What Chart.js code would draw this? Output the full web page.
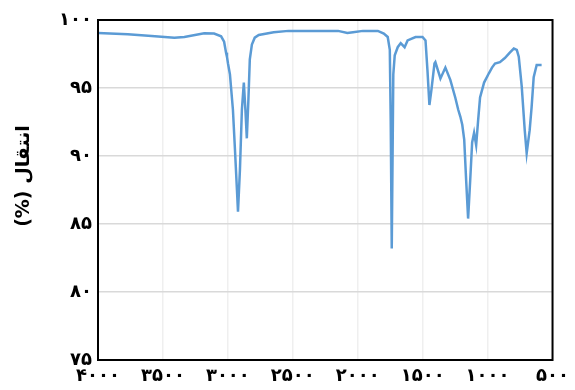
<!DOCTYPE html>
<html>
<head>
<meta charset="utf-8">
<script src="https://cdn.jsdelivr.net/npm/chart.js@4"></script>
<style>
  html, body { margin: 0; padding: 0; background: #ffffff; }
  canvas { display: block; }
</style>
</head>
<body>
<canvas id="ir" width="575" height="390"></canvas>
<script>
// IR spectrum: wavenumber (cm-1) and transmittance (%)
const wavenumbers = [
  4000, 3771, 3587, 3412, 3335, 3182, 3106, 3052, 3029, 3014, 3007, 2999, 2984, 2961,
  2945, 2930, 2922, 2907, 2892, 2877, 2865, 2854, 2842, 2831, 2815, 2793, 2762, 2647,
  2533, 2303, 2151, 2080, 2036, 1960, 1845, 1799, 1769, 1753, 1746, 1738, 1726,
  1715, 1692, 1669, 1639, 1616, 1555, 1501, 1478, 1463, 1448, 1432, 1409, 1402, 1363,
  1325, 1287, 1249, 1226, 1210, 1195, 1180, 1165, 1150, 1134, 1119, 1104, 1088, 1073,
  1058, 1027, 989, 966, 943, 905, 867, 829, 798, 775, 760, 737, 714, 699, 676, 661,
  645, 622, 584
];
const transmittance = [
  99.04, 98.95, 98.82, 98.70, 98.75, 99.02, 99.00, 98.80, 98.40, 97.60, 97.30, 96.80, 96.00, 93.40,
  90.40, 87.50, 85.90, 89.00, 93.40, 95.40, 93.40, 91.30, 94.10, 97.10, 98.20, 98.70, 98.90, 99.10,
  99.20, 99.20, 99.20, 99.05, 99.10, 99.20, 99.20, 99.00, 98.75, 97.80, 92.60, 83.20, 96.00,
  97.40, 98.00, 98.30, 98.00, 98.50, 98.75, 98.75, 98.50, 96.30, 93.75, 94.90, 96.80, 96.90, 95.70,
  96.50, 95.60, 94.30, 93.40, 92.90, 92.30, 91.20, 88.20, 85.40, 88.20, 91.00, 91.70, 90.80, 92.60,
  94.30, 95.40, 96.10, 96.50, 96.80, 96.90, 97.20, 97.60, 97.90, 97.80, 97.30, 95.10, 91.90, 90.20, 91.90, 93.60,
  95.80, 96.70, 96.70
];
const xTicks = [4000, 3500, 3000, 2500, 2000, 1500, 1000, 500];
const yTicks = [75, 80, 85, 90, 95, 100];
const yTitle = 'انتقال (%)';

const persianDigits = '۰۱۲۳۴۵۶۷۸۹';
const toPersian = v => String(v).replace(/\d/g, d => persianDigits[d]);

const points = wavenumbers.map((w, i) => ({ x: w, y: transmittance[i] }));

const tickFont = { family: "'DejaVu Sans', sans-serif", size: 18, weight: 'bold' };

// Black frame around the plotting area and the rotated y-axis caption
const framePlugin = {
  id: 'frame',
  afterDraw(chart) {
    const { ctx, chartArea: a } = chart;
    ctx.save();
    ctx.strokeStyle = '#000000';
    ctx.lineWidth = 2;
    ctx.strokeRect(a.left, a.top, a.right - a.left, a.bottom - a.top);
    ctx.translate(24, 176);
    ctx.rotate(-Math.PI / 2);
    ctx.fillStyle = '#000000';
    ctx.font = "bold 19px 'DejaVu Sans', sans-serif";
    ctx.textAlign = 'center';
    ctx.textBaseline = 'middle';
    // right-to-left embedding keeps the caption in Persian reading order
    ctx.fillText('\u202B' + yTitle + '\u202C', 0, 0);
    ctx.restore();
  }
};

new Chart(document.getElementById('ir'), {
  type: 'line',
  data: {
    datasets: [{
      data: points,
      borderColor: '#5b9bd5',
      borderWidth: 2.5,
      pointRadius: 0,
      tension: 0,
      fill: false
    }]
  },
  options: {
    responsive: false,
    animation: false,
    events: [],
    layout: { padding: { top: 20, right: 19, left: 0, bottom: 0 } },
    plugins: { legend: { display: false }, tooltip: { enabled: false } },
    scales: {
      x: {
        type: 'linear',
        reverse: true,
        min: 500,
        max: 4000,
        afterBuildTicks: s => { s.ticks = xTicks.map(v => ({ value: v })); },
        afterFit: s => { s.height = 30; },
        grid: { color: '#efefef', lineWidth: 1.5, drawTicks: false },
        border: { display: false },
        ticks: {
          padding: 6,
          color: '#000000',
          font: tickFont,
          maxRotation: 0,
          callback: v => toPersian(v)
        }
      },
      y: {
        min: 75,
        max: 100,
        afterBuildTicks: s => { s.ticks = yTicks.map(v => ({ value: v })); },
        afterFit: s => { s.width = 98; },
        grid: { color: '#d9d9d9', lineWidth: 1.5, drawTicks: false },
        border: { display: false },
        ticks: {
          padding: 6,
          color: '#000000',
          font: tickFont,
          callback: v => toPersian(v)
        }
      }
    }
  },
  plugins: [framePlugin]
});
</script>
</body>
</html>
